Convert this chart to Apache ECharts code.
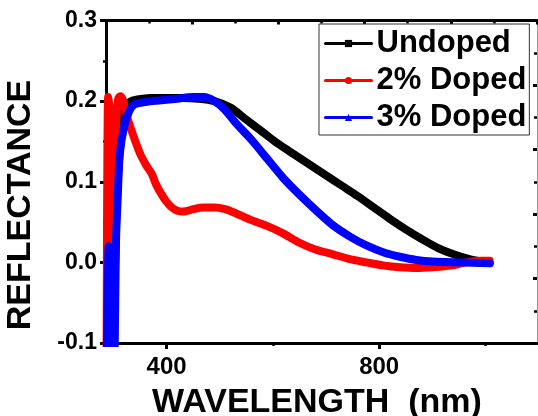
<!DOCTYPE html>
<html>
<head>
<meta charset="utf-8">
<script src="https://cdn.jsdelivr.net/npm/echarts@6/dist/echarts.min.js"></script>
<style>
  html, body { margin: 0; padding: 0; background: #fff; }
  #chart { width: 538px; height: 416px; }
</style>
</head>
<body>
<div id="chart"></div>
<script>
// Reflectance spectra (wavelength in nm, reflectance as fraction)
const undopedWl = [287, 292, 296, 300, 305, 310, 316, 322, 331, 345, 370, 400, 430, 460, 490, 520, 550, 580, 610, 640, 670, 700, 730, 760, 790, 820, 850, 880, 910, 940, 970, 1000, 1008];
const undopedR  = [-0.2, 0.05, -0.2, -0.1, 0.05, 0.12, 0.17, 0.192, 0.199, 0.202, 0.204, 0.204, 0.204, 0.203, 0.200, 0.192, 0.177, 0.162, 0.147, 0.134, 0.121, 0.108, 0.095, 0.082, 0.068, 0.054, 0.041, 0.029, 0.018, 0.010, 0.004, 0.000, -0.001];

const doped2Wl = [287, 290, 293, 296, 299, 302, 305, 309, 313, 317, 321, 326, 337, 350, 362, 372, 380, 390, 400, 410, 420, 432, 450, 470, 490, 510, 530, 557, 590, 619, 651, 680, 713, 745, 776, 810, 839, 870, 901, 935, 964, 990, 1008];
const doped2R  = [-0.15, 0.205, 0.19, -0.15, -0.2, 0.05, 0.17, 0.203, 0.206, 0.203, 0.195, 0.18, 0.158, 0.135, 0.120, 0.110, 0.097, 0.085, 0.075, 0.068, 0.064, 0.063, 0.066, 0.068, 0.068, 0.066, 0.061, 0.053, 0.045, 0.036, 0.024, 0.016, 0.010, 0.004, 0.000, -0.004, -0.006, -0.007, -0.006, -0.004, 0.000, 0.002, 0.002];

const doped3Wl = [287, 291, 294, 298, 301, 305, 308, 312, 320, 330, 340, 360, 390, 420, 450, 470, 490, 510, 530, 557, 590, 619, 650, 682, 713, 745, 776, 810, 839, 870, 901, 950, 1008];
const doped3R  = [-0.15, 0.02, -0.2, 0.0, -0.15, 0.03, 0.08, 0.135, 0.168, 0.188, 0.196, 0.199, 0.201, 0.203, 0.205, 0.205, 0.200, 0.189, 0.173, 0.154, 0.128, 0.105, 0.084, 0.064, 0.046, 0.032, 0.021, 0.012, 0.007, 0.003, 0.001, 0.000, -0.001];

const seriesNames = ['Undoped', '2% Doped', '3% Doped'];
const seriesColors = ['#000000', '#ff0000', '#0000ff'];
const seriesSymbols = ['rect', 'circle', 'triangle'];
const xMajorTicks = [400, 800];
const xMinorTicks = [600, 1000];

const FONT = '"Liberation Sans", Arial, sans-serif';

function pairs(xs, ys) { return xs.map((x, i) => [x, ys[i]]); }
const seriesData = [pairs(undopedWl, undopedR), pairs(doped2Wl, doped2R), pairs(doped3Wl, doped3R)];

const chart = echarts.init(document.getElementById('chart'), null, { renderer: 'canvas' });

const option = {
  backgroundColor: '#ffffff',
  animation: false,
  grid: { left: 106, right: 1, top: 20.5, bottom: 73 },
  xAxis: [
    {
      type: 'value', min: 286, max: 1097, position: 'bottom',
      axisLine: { show: true, onZero: false, lineStyle: { color: '#000', width: 3 } },
      axisTick: { show: true, customValues: xMajorTicks, length: 6, lineStyle: { color: '#000', width: 3 } },
      axisLabel: { customValues: xMajorTicks, margin: 12, color: '#000', fontSize: 24, fontWeight: 'bold', fontFamily: FONT },
      splitLine: { show: false }
    },
    {
      type: 'value', min: 286, max: 1097, position: 'bottom',
      axisLine: { show: false, onZero: false },
      axisTick: { show: true, customValues: xMinorTicks, length: 3, lineStyle: { color: '#000', width: 2.5 } },
      axisLabel: { show: false },
      splitLine: { show: false }
    },
    {
      type: 'value', min: 0, max: 5, interval: 1, position: 'top',
      axisLine: { show: true, onZero: false, lineStyle: { color: '#000', width: 3 } },
      axisTick: { show: true, inside: true, length: 4, lineStyle: { color: '#000', width: 3 } },
      minorTick: { show: true, splitNumber: 2, length: 3, lineStyle: { color: '#000', width: 2.5 } },
      axisLabel: { show: false },
      splitLine: { show: false }
    }
  ],
  yAxis: [
    {
      type: 'value', min: -0.1, max: 0.3, interval: 0.1, position: 'left',
      axisLine: { show: true, onZero: false, lineStyle: { color: '#000', width: 3 } },
      axisTick: { show: true, length: 6, lineStyle: { color: '#000', width: 3 } },
      minorTick: { show: true, splitNumber: 2, length: 3, lineStyle: { color: '#000', width: 2.5 } },
      axisLabel: { margin: 9, color: '#000', fontSize: 23, fontWeight: 'bold', fontFamily: FONT,
                   formatter: v => v.toFixed(1) },
      splitLine: { show: false }
    },
    {
      type: 'value', min: 0, max: 5, interval: 1, position: 'right',
      axisLine: { show: true, onZero: false, lineStyle: { color: '#9a9a9a', width: 1 } },
      axisTick: { show: true, inside: true, length: 4, lineStyle: { color: '#000', width: 3 } },
      minorTick: { show: true, splitNumber: 2, length: 3, lineStyle: { color: '#000', width: 2.5 } },
      axisLabel: { show: false },
      splitLine: { show: false }
    }
  ],
  legend: {
    orient: 'vertical',
    left: 319, top: 24,
    padding: [4, 3, 2, 5],
    itemGap: 6,
    itemWidth: 46, itemHeight: 9,
    borderColor: '#333', borderWidth: 1,
    backgroundColor: '#fff',
    lineStyle: { width: 3 },
    textStyle: { color: '#000', fontSize: 31, fontWeight: 'bold', fontFamily: FONT },
    data: seriesNames
  },
  graphic: [
    {
      type: 'text', left: 322 - 170, top: 386, z: 10,
      style: { text: 'WAVELENGTH  (nm)', fill: '#000', font: 'bold 34px ' + FONT, width: 340, textAlign: 'center' }
    },
    {
      type: 'text', x: 21, y: 205, rotation: Math.PI / 2, z: 10,
      style: { text: 'REFLECTANCE', fill: '#000', font: 'bold 34px ' + FONT, textAlign: 'center', textVerticalAlign: 'middle' }
    }
  ],
  series: seriesNames.map((name, i) => ({
    name: name,
    type: 'line',
    xAxisIndex: 0, yAxisIndex: 0,
    data: seriesData[i],
    symbol: seriesSymbols[i],
    symbolSize: 7,
    showSymbol: false,
    smooth: 0.3,
    clip: true,
    color: seriesColors[i],
    lineStyle: { color: seriesColors[i], width: 8, join: 'round', cap: 'round' },
    itemStyle: { color: seriesColors[i] },
    z: 2 + i
  }))
};

chart.setOption(option);
</script>
</body>
</html>
